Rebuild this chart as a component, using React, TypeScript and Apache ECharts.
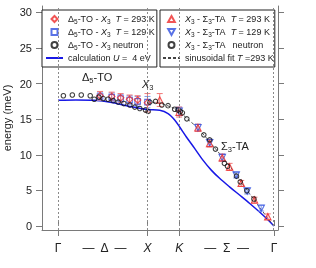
import React, { useEffect, useRef } from 'react';
import * as echarts from 'echarts';

// high-symmetry points (k in units of 2π/a along Γ–X, then K–Γ)
const kPoints = [0, 1, 1.354, 2.414];
const kNames = ['Γ', '{i|X}', '{i|K}', 'Γ'];
const pathLabelPos = [0.52, 1.885];
const pathLabelText = ['—  Δ  —', '—  Σ  —'];
const yTicks = [0, 5, 10, 15, 20, 25, 30];

// Δ5-TO – X3, IXS, [k, E (meV), error]
const d293 = [[0.47, 18.3, 0.6], [0.6, 18.2, 0.6], [0.7, 18.0, 0.6], [0.8, 17.8, 0.6], [0.89, 17.7, 0.6], [1.0, 17.3, 1.3]];
const d129 = [[0.47, 18.2, 0.6], [0.6, 18.1, 0.6], [0.7, 17.9, 0.6], [0.8, 17.7, 0.6], [0.89, 17.5, 0.7], [1.0, 17.4, 0.8]];
const dNeutron = [[0.06, 18.3], [0.16, 18.4], [0.26, 18.4], [0.36, 18.3], [0.405, 17.8], [0.457, 18.1], [0.505, 17.9], [0.56, 17.8], [0.617, 17.6], [0.672, 17.4], [0.736, 17.2], [0.803, 17.0], [0.858, 16.7], [0.914, 16.5], [0.978, 16.3], [1.007, 16.1]];

// X3 – Σ3-TA
const x293 = [[1.137, 17.7, 0.9], [1.354, 16.0, 0.7], [1.564, 13.8, 0.5], [1.695, 11.6, 0.5], [1.836, 9.6, 0.5], [1.918, 8.3, 0.5], [2.048, 6.0, 0.4], [2.196, 3.65, 0.4], [2.345, 1.3, 0.4]];
const x129 = [[1.354, 16.1, 0.6], [1.564, 13.8, 0.5], [1.695, 11.7, 0.5], [1.836, 9.6, 0.5], [1.992, 7.15, 0.4], [2.115, 4.9, 0.4], [2.271, 2.5, 0.4]];
const xNeutron = [[1.026, 17.4], [1.09, 17.5], [1.16, 17.0], [1.23, 16.9], [1.304, 16.4], [1.34, 16.3], [1.368, 16.1], [1.39, 15.9], [1.44, 15.05], [1.63, 12.8], [1.695, 12.1], [1.76, 10.8], [1.86, 8.8], [1.895, 8.4], [1.995, 7.0], [2.037, 6.2], [2.11, 4.95], [2.19, 3.8]];

// calculation U = 4 eV
const calc = [[0, 17.65], [0.2, 17.7], [0.4, 17.65], [0.6, 17.35], [0.8, 16.8], [1.0, 16.35], [1.137, 16.25], [1.23, 15.8], [1.304, 14.9], [1.36, 13.9], [1.435, 12.5], [1.527, 10.9], [1.62, 9.25], [1.713, 7.85], [1.806, 6.7], [1.917, 5.5], [2.029, 4.35], [2.14, 3.2], [2.25, 2.0], [2.36, 0.7], [2.414, 0]];

// sinusoidal fit T = 293 K
const fit = [[1.0, 17.4], [1.1, 17.35], [1.2, 17.0], [1.3, 16.5], [1.354, 16.1], [1.45, 15.0], [1.55, 13.9], [1.65, 12.5], [1.75, 11.0], [1.85, 9.5], [1.95, 7.9], [2.05, 6.1], [2.15, 4.4], [2.25, 2.7], [2.35, 1.0], [2.414, 0]];

const legendNames: Record<string, string> = {
  d293: 'Δ{s|5}-TO - {i|X}{s|3}  {i|T} = 293 K',
  d129: 'Δ{s|5}-TO - {i|X}{s|3}  {i|T} = 129 K',
  dn: 'Δ{s|5}-TO - {i|X}{s|3} neutron',
  calc: 'calculation {i|U} =  4 eV',
  x293: '{i|X}{s|3} - Σ{s|3}-TA  {i|T} = 293 K',
  x129: '{i|X}{s|3} - Σ{s|3}-TA  {i|T} = 129 K',
  xn: '{i|X}{s|3} - Σ{s|3}-TA   neutron',
  fit: 'sinusoidal fit {i|T} =293 K',
};

const ICON_DIAMOND = 'path://M5,0L10,5L5,10L0,5Z';
const ICON_SQUARE = 'path://M1,1H9V9H1Z';
const ICON_TRI_UP = 'path://M5,0L10,9H0Z';
const ICON_TRI_DOWN = 'path://M0,0H10L5,9Z';
const ICON_CIRCLE = 'path://M1,5A4,4 0 1 1 9,5A4,4 0 1 1 1,5Z';

const F = '"Liberation Sans", Arial, Helvetica, sans-serif';
const RED = '#ee2a2a';
const RED_E = '#f27a7a';
const BLUE = '#2f4fe0';
const BLUE_E = '#7f98ec';
const AX = '#7a7a7a';

const legRich = {
  s: { fontSize: 6.5, fontFamily: F, color: '#222', verticalAlign: 'bottom' },
  i: { fontSize: 9, fontFamily: F, color: '#222', fontStyle: 'italic', lineHeight: 12 },
};

function errSeries(data: number[][], color: string) {
  return {
    type: 'custom',
    data,
    silent: true,
    z: 2,
    encode: { x: 0, y: 1 },
    renderItem: (_p: any, api: any) => {
      const x = api.value(0), y = api.value(1), e = api.value(2);
      const t = api.coord([x, y + e]);
      const b = api.coord([x, y - e]);
      const hw = 3;
      const st = { stroke: color, lineWidth: 1 };
      return {
        type: 'group',
        children: [
          { type: 'line', shape: { x1: t[0], y1: t[1], x2: b[0], y2: b[1] }, style: st },
          { type: 'line', shape: { x1: t[0] - hw, y1: t[1], x2: t[0] + hw, y2: t[1] }, style: st },
          { type: 'line', shape: { x1: b[0] - hw, y1: b[1], x2: b[0] + hw, y2: b[1] }, style: st },
        ],
      };
    },
  };
}

function openScatter(name: string, data: number[][], symbol: string, color: string, size: number, rotate = 0) {
  return {
    name,
    type: 'scatter',
    data: data.map((d) => [d[0], d[1]]),
    symbol,
    symbolSize: size,
    symbolRotate: rotate,
    z: 3,
    itemStyle: { color: 'rgba(255,255,255,0)', borderColor: color, borderWidth: 1.1 },
  };
}

export default function App() {
  const ref = useRef<HTMLDivElement>(null);
  useEffect(() => {
    if (!ref.current) return;
    const chart = echarts.init(ref.current, undefined, { renderer: 'svg' });
    const legendBase = {
      orient: 'vertical',
      top: 10,
      itemGap: 1,
      itemWidth: 17,
      itemHeight: 6,
      symbolKeepAspect: true,
      symbolRotate: 0,
      borderColor: '#222',
      borderWidth: 1,
      borderRadius: 0,
      backgroundColor: '#fff',
      formatter: (n: string) => legendNames[n] || n,
      textStyle: { fontSize: 9, fontFamily: F, color: '#222', lineHeight: 12, rich: legRich },
      selectedMode: false,
    };
    const hideSym = { color: 'rgba(0,0,0,0)', borderWidth: 0, opacity: 0 };
    const annRich = {
      s: { fontSize: 7.5, fontFamily: F, fill: '#222', verticalAlign: 'bottom' },
      i: { fontSize: 11, fontFamily: F, fill: '#222', fontStyle: 'italic', lineHeight: 14 },
    };
    chart.setOption({
      animation: false,
      grid: { left: 42, right: 38, top: 6, bottom: 38 },
      xAxis: [
        {
          type: 'value', min: -0.179, max: 2.459,
          axisLine: { show: true, onZero: false, lineStyle: { color: AX, width: 1 } },
          axisTick: { show: true, customValues: kPoints, length: 6, lineStyle: { color: AX } },
          axisLabel: {
            customValues: [...kPoints, ...pathLabelPos],
            margin: 12, fontSize: 12, fontFamily: F, color: '#222',
            formatter: (v: number) => {
              for (let j = 0; j < kPoints.length; j++) if (Math.abs(v - kPoints[j]) < 1e-6) return kNames[j];
              for (let j = 0; j < pathLabelPos.length; j++) if (Math.abs(v - pathLabelPos[j]) < 1e-6) return pathLabelText[j];
              return '';
            },
            rich: { i: { fontSize: 12, fontFamily: F, color: '#222', fontStyle: 'italic' } },
          },
          splitLine: { show: false },
        },
        {
          type: 'value', position: 'top', min: -0.179, max: 2.459,
          axisLine: { show: false },
          axisTick: { show: true, customValues: kPoints, length: 6, lineStyle: { color: AX } },
          axisLabel: { show: false },
          splitLine: { show: false },
        },
      ],
      yAxis: [
        {
          type: 'value', min: -0.56, max: 30.9,
          axisLine: { show: true, onZero: false, lineStyle: { color: AX, width: 1 } },
          axisTick: { show: true, customValues: yTicks, length: 6, lineStyle: { color: AX } },
          axisLabel: { customValues: yTicks, margin: 10, fontSize: 11, fontFamily: F, color: '#222' },
          splitLine: { show: false },
        },
        {
          type: 'value', position: 'right', min: -0.56, max: 30.9,
          axisLine: { show: true, onZero: false, lineStyle: { color: AX, width: 1 } },
          axisTick: { show: true, customValues: yTicks, length: 6, lineStyle: { color: AX } },
          axisLabel: { show: false },
          splitLine: { show: false },
        },
      ],
      legend: [
        {
          ...legendBase, left: 42, padding: [3, 2, 3, 3],
          data: [
            { name: 'd293', icon: ICON_DIAMOND },
            { name: 'd129', icon: ICON_SQUARE },
            { name: 'dn', icon: ICON_CIRCLE },
            { name: 'calc', itemStyle: hideSym },
          ],
        },
        {
          ...legendBase, left: 160, padding: [3, 1, 3, 2],
          data: [
            { name: 'x293', icon: ICON_TRI_UP },
            { name: 'x129', icon: ICON_TRI_DOWN },
            { name: 'xn', icon: ICON_CIRCLE },
            { name: 'fit', itemStyle: hideSym },
          ],
        },
      ],
      graphic: [
        {
          type: 'text', x: 7, y: 118, rotation: Math.PI / 2,
          style: { text: 'energy (meV)', fontSize: 11, fontFamily: F, fill: '#222', align: 'center', verticalAlign: 'middle' },
        },
        {
          type: 'text', x: 82, y: 70,
          style: { text: 'Δ{s|5}-TO', fontSize: 11, fontFamily: F, fill: '#222', lineHeight: 14, rich: annRich },
        },
        {
          type: 'text', x: 142, y: 77,
          style: { text: '{i|X}{s|3}', fontSize: 11, fontFamily: F, fill: '#222', lineHeight: 14, rich: annRich },
        },
        {
          type: 'text', x: 221, y: 139,
          style: { text: 'Σ{s|3}-TA', fontSize: 11, fontFamily: F, fill: '#222', lineHeight: 14, rich: annRich },
        },
      ],
      series: [
        {
          name: 'calc', type: 'line', data: calc, smooth: 0.3, symbol: 'none', z: 1,
          lineStyle: { color: '#1818e6', width: 1.5 }, itemStyle: { color: '#1818e6' },
          markLine: {
            silent: true, symbol: ['none', 'none'], label: { show: false },
            lineStyle: { color: '#8a8a8a', type: [2, 2], width: 1 },
            data: kPoints.map((k) => ({ xAxis: k })),
          },
        },
        {
          name: 'fit', type: 'line', data: fit, smooth: 0.3, symbol: 'none', z: 1,
          lineStyle: { color: '#444', width: 0.9, type: [3, 2] }, itemStyle: { color: '#444' },
        },
        errSeries(d129, BLUE_E),
        errSeries(d293, RED_E),
        errSeries(x129, BLUE_E),
        errSeries(x293, RED_E),
        openScatter('d129', d129, 'rect', BLUE, 5.5),
        openScatter('d293', d293, 'diamond', RED, 6.5),
        openScatter('x129', x129, 'triangle', BLUE, 6.5, 180),
        openScatter('x293', x293, 'triangle', RED, 6.5),
        openScatter('dn', dNeutron, 'circle', '#111', 4.5),
        openScatter('xn', xNeutron, 'circle', '#111', 4.5),
      ],
    });
    return () => chart.dispose();
  }, []);
  return <div ref={ref} style={{ position: 'fixed', left: 0, top: 0, width: 316, height: 268 }} />;
}
